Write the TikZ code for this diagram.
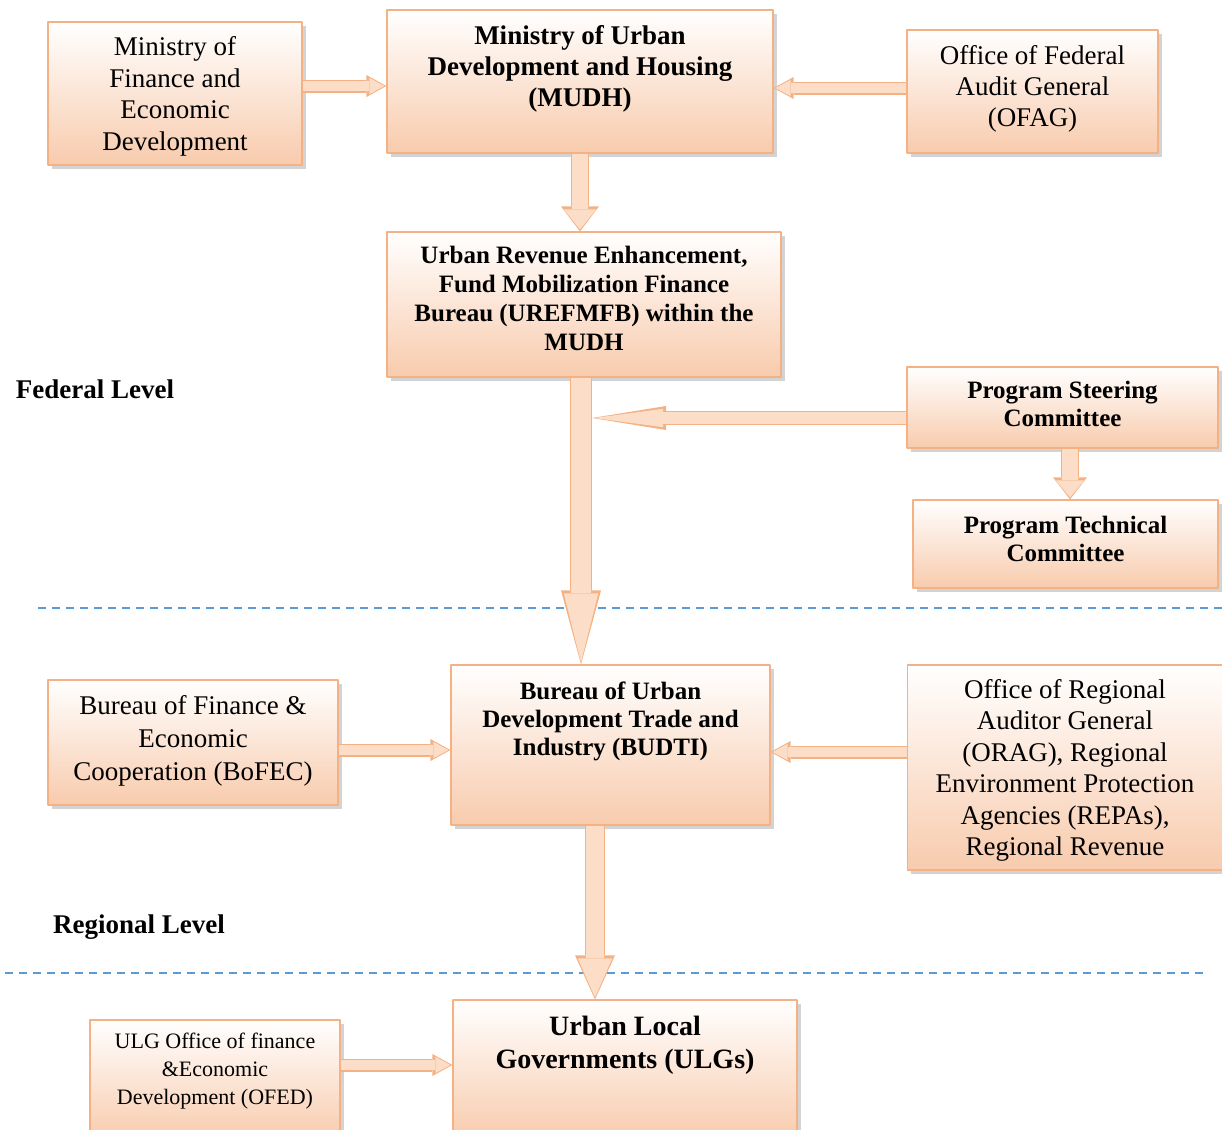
\documentclass[tikz,border=0pt]{standalone}
\usepackage{fontspec}
\setmainfont{Liberation Serif}
\usetikzlibrary{arrows.meta}
\usetikzlibrary{shadows}
\definecolor{edge}{HTML}{F4B183}
\definecolor{peach}{HTML}{F8CBAD}
\definecolor{shaft}{HTML}{FBDDC8}
\definecolor{levelblue}{HTML}{5B9BD5}
\tikzset{
  box/.style={drop shadow={shadow xshift=1.8pt,shadow yshift=-1.8pt,opacity=0.35},
    draw=edge,line width=0.6pt,top color=white,bottom color=peach,align=center,inner sep=2pt},
  plain/.style={font=\fontsize{13.5}{15.75}\selectfont},
  heavy/.style={font=\fontsize{12.5}{14}\selectfont\bfseries},
  barrow/.style n args={3}{line cap=butt,line width=#1,draw=edge,
    -{Triangle[length=#3,width=#2,line width=0pt]},
    postaction={draw=shaft,line width=#1-1.4pt,
      -{Triangle[length=#3-2.5pt,width=#2-2.8pt,line width=0pt]},shorten >=1pt}},
  levelline/.style={draw=levelblue,line width=0.8pt,dash pattern=on 4pt off 3pt,line cap=butt}
}
\begin{document}
\begin{tikzpicture}[line cap=round,line join=round,x=0.5pt,y=-0.5pt]
\useasboundingbox (0,0) rectangle (1222,1130);
\clip (0,0) rectangle (1222,1130);
% level separators
\draw[levelline] (38,608) -- (1222,608);
\draw[levelline] (5,973) -- (1205,973);
% federal level
\node[box,plain,minimum width=127pt,minimum height=71.5pt,text depth=0pt] (mofed) at (175,93.5) {Ministry of\\ Finance and\\ Economic\\ Development};
\node[box,font=\fontsize{13.5}{15.5}\selectfont\bfseries,minimum width=193pt,minimum height=71.5pt,text depth=15.5pt] (mudh) at (580,81.5) {Ministry of Urban\\ Development and Housing\\ (MUDH)};
\node[box,font=\fontsize{13.5}{15.5}\selectfont,minimum width=125.5pt,minimum height=61.5pt,text depth=5.5pt] (ofag) at (1032.5,91.5) {Office of Federal\\ Audit General\\ (OFAG)};
\node[box,font=\fontsize{12.5}{14.5}\selectfont\bfseries,minimum width=197pt,minimum height=72.5pt,text depth=6.5pt] (uref) at (584,304.5) {Urban Revenue Enhancement,\\ Fund Mobilization Finance\\ Bureau (UREFMFB) within the\\ MUDH};
\node[box,heavy,minimum width=155.5pt,minimum height=40.5pt,text depth=3.5pt] (psc) at (1062.5,407.5) {Program Steering\\ Committee};
\node[box,heavy,minimum width=152.5pt,minimum height=44pt,text depth=5.5pt] (ptc) at (1065.5,544) {Program Technical\\ Committee};
\node[font=\fontsize{13.5}{15.5}\selectfont\bfseries] (federal) at (95,389) {Federal Level};
% regional level
\node[box,font=\fontsize{13.5}{16.5}\selectfont,minimum width=145pt,minimum height=62.5pt,text depth=4.5pt] (bofec) at (193,742.5) {Bureau of Finance \&\\ Economic\\ Cooperation (BoFEC)};
\node[box,heavy,minimum width=159.5pt,minimum height=80pt,text depth=26pt] (budti) at (610.5,745) {Bureau of Urban\\ Development Trade and\\ Industry (BUDTI)};
\node[box,plain,minimum width=157.5pt,minimum height=102.5pt,text depth=0pt] (orag) at (1065,767.5) {Office of Regional\\ Auditor General\\ (ORAG), Regional\\ Environment Protection\\ Agencies (REPAs),\\ Regional Revenue};
\node[font=\fontsize{13.5}{15.5}\selectfont\bfseries] (regional) at (139,927) {Regional Level};
% local level
\node[box,font=\fontsize{11}{14}\selectfont,minimum width=125pt,minimum height=60pt,text depth=11pt] (ofed) at (215,1080) {ULG Office of finance\\ \&Economic\\ Development (OFED)};
\node[box,font=\fontsize{14}{16.5}\selectfont\bfseries,minimum width=172pt,minimum height=70pt,text depth=27.5pt] (ulgs) at (625,1070) {Urban Local\\ Governments (ULGs)};
% block arrows
\coordinate (trunk) at (592,418);
\draw[barrow={6.5pt}{11pt}{10pt}] ([yshift=3.75pt]mofed.east) -- ([yshift=3.75pt]mofed.east -| mudh.west);
\draw[barrow={6.5pt}{11pt}{10pt}] ([yshift=1.75pt]ofag.west) -- ([yshift=1.75pt]ofag.west -| mudh.east);
\draw[barrow={9pt}{19pt}{12.5pt}] (mudh.south) -- (mudh.south |- uref.north);
\draw[barrow={11pt}{20pt}{37pt}] ([xshift=-1.5pt]uref.south) -- ([xshift=-1.5pt]uref.south |- budti.north);
\draw[barrow={7pt}{12pt}{37pt}] (trunk -| psc.west) -- (trunk);
\draw[barrow={9pt}{17pt}{11pt}] ([xshift=3.75pt]psc.south) -- ([xshift=3.75pt]psc.south |- ptc.north);
\draw[barrow={6.5pt}{11pt}{10pt}] ([yshift=-3.75pt]bofec.east) -- ([yshift=-3.75pt]bofec.east -| budti.west);
\draw[barrow={6.5pt}{11pt}{10pt}] ([yshift=7.75pt]orag.west) -- ([yshift=7.75pt]orag.west -| budti.east);
\draw[barrow={10pt}{20pt}{22pt}] ([xshift=-7.75pt]budti.south) -- ([xshift=-7.75pt]budti.south |- ulgs.north);
\draw[barrow={6.5pt}{11pt}{10pt}] ([yshift=7.5pt]ofed.east) -- ([yshift=7.5pt]ofed.east -| ulgs.west);
\end{tikzpicture}
\end{document}
